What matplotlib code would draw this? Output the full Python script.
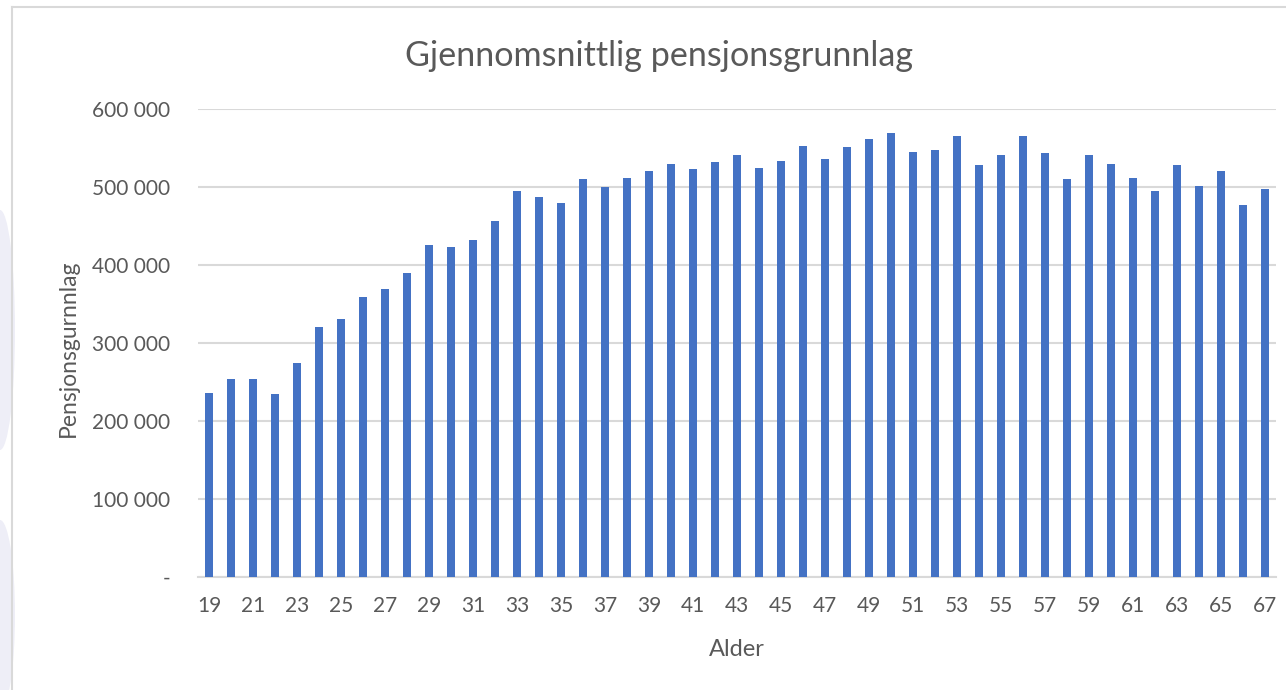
import matplotlib
matplotlib.use("Agg")
import matplotlib.pyplot as plt
from matplotlib.patches import Ellipse
from matplotlib.ticker import FuncFormatter

plt.rcParams['font.family'] = ['Lato', 'DejaVu Sans']

# Alder 19-67 og gjennomsnittlig pensjonsgrunnlag
ages = list(range(19, 68))
values = [
    235500, 253400, 253400, 234000, 275000, 321000, 330800, 358500, 368800, 390000,
    426000, 423000, 432500, 457000, 495000, 486700, 479000, 509800, 500000, 511500,
    521000, 529500, 522700, 531700, 541000, 524700, 533000, 552000, 536000, 551000,
    561000, 568800, 544500, 547400, 565800, 527800, 541000, 565800, 543000, 509800,
    541000, 529500, 511500, 495000, 527800, 501700, 521000, 477000, 498000,
]
y_ticks = [0, 100000, 200000, 300000, 400000, 500000, 600000]
x_tick_ages = ages[::2]

W, H = 1286, 690
fig = plt.figure(figsize=(W / 100, H / 100), dpi=100)

# faint watermark on the far left
for (cx, cy, w, h) in [(0, 330, 30, 240), (0, 615, 30, 190)]:
    fig.patches.append(Ellipse((cx / W, 1 - cy / H), w / W, h / H, transform=fig.transFigure,
                               facecolor='#EEEEF7', edgecolor='none', zorder=0))

# chart frame (left and top edges visible)
fig.add_artist(plt.Line2D([12 / W, 12 / W], [0, 1 - 7 / H], color='#D9D9D9', lw=1.5))
fig.add_artist(plt.Line2D([12 / W, 1], [1 - 7 / H, 1 - 7 / H], color='#D9D9D9', lw=1.5))

left, right, top, bottom = 198, 1276, 109, 577
ax = fig.add_axes([left / W, 1 - bottom / H, (right - left) / W, (bottom - top) / H])
ax.bar(ages, values, width=0.32, color='#4472C4', zorder=3)

ax.set_xlim(18.5, 67.5)
ax.set_ylim(0, 600000)
ax.set_yticks(y_ticks)
ax.yaxis.set_major_formatter(FuncFormatter(
    lambda v, p: '-' if v == 0 else f"{int(v):,}".replace(',', ' ')))
ax.set_xticks(x_tick_ages)
ax.set_xticklabels([str(a) for a in x_tick_ages])

ax.grid(axis='y', color='#D9D9D9', lw=1.5, zorder=0)
for s in ['top', 'right', 'left']:
    ax.spines[s].set_visible(False)
ax.spines['bottom'].set_color('#D9D9D9')
ax.spines['bottom'].set_linewidth(1.5)
ax.tick_params(length=0, labelsize=15, labelcolor='#595959')
ax.tick_params(axis='y', pad=20)
ax.tick_params(axis='x', pad=14)

fig.text(659 / W, 1 - 56 / H, 'Gjennomsnittlig pensjonsgrunnlag', ha='center', va='center',
         fontsize=24.6, color='#595959')
fig.text(737 / W, 1 - 649 / H, 'Alder', ha='center', va='center', fontsize=17, color='#595959')
fig.text(68 / W, 1 - 348 / H, 'Pensjonsgurnnlag', ha='center', va='center', rotation=90,
         fontsize=16.5, color='#595959')

fig.savefig('out.png', dpi=100, facecolor='white')
